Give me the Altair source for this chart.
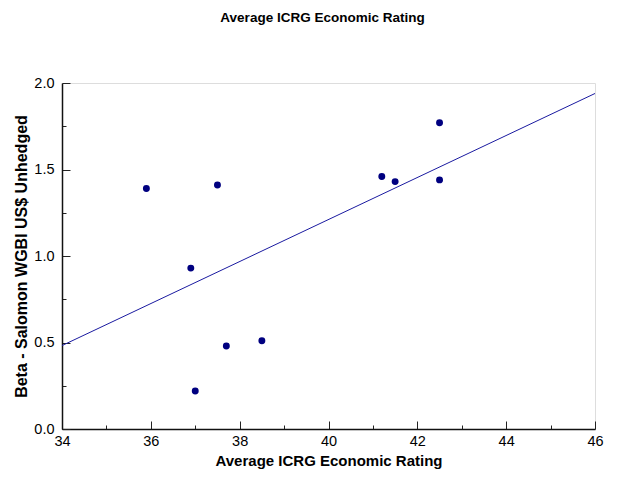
import altair as alt
import pandas as pd

# Data
rating = [35.9, 36.9, 37.0, 37.5, 37.7, 38.5, 41.2, 41.5, 42.5, 42.5]
beta = [1.39, 0.93, 0.22, 1.41, 0.48, 0.51, 1.46, 1.43, 1.77, 1.44]

x_major = [34, 36, 38, 40, 42, 44, 46]
x_minor = [35, 37, 39, 41, 43, 45]
y_major = [0.0, 0.5, 1.0, 1.5, 2.0]
y_minor = [0.25, 0.75, 1.25, 1.75]

df = pd.DataFrame({"rating": rating, "beta": beta})

FONT = "Liberation Sans"
xs = alt.Scale(domain=[34, 46], nice=False, zero=False)
ys = alt.Scale(domain=[0, 2], nice=False, zero=False)

label_style = dict(labelFont=FONT, labelFontSize=14.5, labelColor="black",
                   labelFlush=False, titleFont=FONT, titleFontWeight="bold",
                   titleColor="black")

base = alt.Chart(df)

points = base.mark_circle(size=48, color="#000080", opacity=1).encode(
    x=alt.X("rating:Q", scale=xs,
            axis=alt.Axis(orient="bottom", values=x_major, format="d", ticks=False,
                          domain=True, domainColor="#111111", domainWidth=1.5,
                          labelPadding=5, title="Average ICRG Economic Rating",
                          titleFontSize=15, titlePadding=6, grid=False,
                          **label_style)),
    y=alt.Y("beta:Q", scale=ys,
            axis=alt.Axis(orient="left", values=y_major, format=".1f", ticks=False,
                          domain=True, domainColor="#111111", domainWidth=1.5,
                          labelPadding=8, title="Beta - Salomon WGBI US$ Unhedged",
                          titleFontSize=16, titlePadding=4, grid=False,
                          **label_style)),
)

line = base.transform_regression("rating", "beta", extent=[34, 46]).mark_line(
    color="#1a1aa0", strokeWidth=1
).encode(
    x=alt.X("rating:Q", scale=xs,
            axis=alt.Axis(orient="bottom", values=x_major, labels=False, title=None,
                          domain=False, ticks=True, tickSize=8, tickColor="#222222",
                          tickWidth=1, offset=-8, grid=False)),
    y=alt.Y("beta:Q", scale=ys,
            axis=alt.Axis(orient="left", values=y_major, labels=False, title=None,
                          domain=False, ticks=True, tickSize=8, tickColor="#222222",
                          tickWidth=1, offset=-8, grid=False)),
)

minor = base.mark_circle(opacity=0).encode(
    x=alt.X("rating:Q", scale=xs,
            axis=alt.Axis(orient="bottom", values=x_minor, labels=False, title=None,
                          domain=False, ticks=True, tickSize=4, tickColor="#222222",
                          tickWidth=1, offset=-4, grid=False)),
    y=alt.Y("beta:Q", scale=ys,
            axis=alt.Axis(orient="left", values=y_minor, labels=False, title=None,
                          domain=False, ticks=True, tickSize=4, tickColor="#222222",
                          tickWidth=1, offset=-4, grid=False)),
)

chart = alt.layer(minor, line, points).resolve_axis(
    x="independent", y="independent"
).properties(
    width=533,
    height=346,
    autosize=alt.AutoSizeParams(type="none"),
    padding={"left": 54, "top": 75, "right": 16, "bottom": 42},
    title=alt.TitleParams("Average ICRG Economic Rating", font=FONT, fontSize=13.5,
                          fontWeight="bold", color="black", anchor="middle",
                          frame="group", offset=51, dx=-6),
).configure_view(
    stroke="#666666", strokeWidth=1
).configure(background="white")

chart.save("out.html", embed_options={"renderer": "svg", "actions": False})
